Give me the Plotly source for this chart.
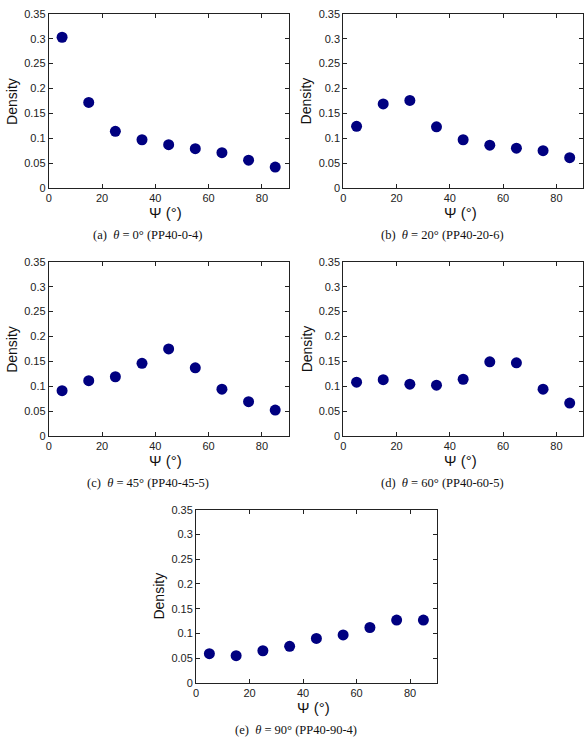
import plotly.graph_objects as go

W, H = 588, 745

psi = [5, 15, 25, 35, 45, 55, 65, 75, 85]
dens_a = [0.303, 0.172, 0.114, 0.097, 0.087, 0.079, 0.071, 0.056, 0.042]
dens_b = [0.124, 0.169, 0.176, 0.123, 0.097, 0.086, 0.080, 0.075, 0.061]
dens_c = [0.091, 0.111, 0.119, 0.146, 0.175, 0.137, 0.094, 0.069, 0.052]
dens_d = [0.108, 0.113, 0.104, 0.102, 0.114, 0.149, 0.147, 0.094, 0.066]
dens_e = [0.059, 0.055, 0.065, 0.074, 0.090, 0.097, 0.112, 0.127, 0.127]

captions = [
    "(a)  <i>θ</i> = 0° (PP40-0-4)",
    "(b)  <i>θ</i> = 20° (PP40-20-6)",
    "(c)  <i>θ</i> = 45° (PP40-45-5)",
    "(d)  <i>θ</i> = 60° (PP40-60-5)",
    "(e)  <i>θ</i> = 90° (PP40-90-4)",
]
xticks = [0, 20, 40, 60, 80]
yticks = [0, 0.05, 0.1, 0.15, 0.2, 0.25, 0.3, 0.35]
yticklabels = ["0", "0.05", "0.1", "0.15", "0.2", "0.25", "0.3", "0.35"]

series = [dens_a, dens_b, dens_c, dens_d, dens_e]

# plot areas in pixels: (left, right, top, bottom)
boxes = [
    (46, 287, 8, 185),
    (342, 583, 8, 185),
    (46, 287, 260, 437),
    (342, 583, 260, 437),
    (194, 436, 512, 688),
]

SANS = "Liberation Sans"
SERIF = "Liberation Serif"

def px(x):
    return x / W

def py(y):
    return 1 - y / H

fig = go.Figure()
annotations = []
layout = {}
for i, (vals, box) in enumerate(zip(series, boxes)):
    n = "" if i == 0 else str(i + 1)
    l, r, t, b = box
    fig.add_trace(go.Scatter(
        x=psi, y=vals, mode="markers",
        marker=dict(size=11, color="#000080", line=dict(width=0)),
        xaxis="x" + n, yaxis="y" + n, showlegend=False,
    ))
    common = dict(
        showline=True, mirror="ticks", linecolor="#222", linewidth=1,
        ticks="inside", ticklen=4, tickcolor="#222", showgrid=False,
        zeroline=False, tickfont=dict(family=SANS, size=11, color="#222"),
    )
    layout["xaxis" + n] = dict(
        domain=[px(l), px(r)], anchor="y" + n, range=[0, 90],
        tickvals=xticks, **common,
    )
    layout["yaxis" + n] = dict(
        domain=[py(b), py(t)], anchor="x" + n, range=[0, 0.35],
        tickvals=yticks, ticktext=yticklabels, **common,
    )
    cx = (l + r) / 2
    annotations.append(dict(
        text="Ψ (°)", x=px(cx - 3), y=py(b + 25), xref="paper", yref="paper",
        showarrow=False, font=dict(family=SANS, size=15, color="#111"),
        xanchor="center", yanchor="middle",
    ))
    annotations.append(dict(
        text="Density", x=px(l - 37), y=py((t + b) / 2), xref="paper", yref="paper",
        showarrow=False, textangle=-90,
        font=dict(family=SANS, size=14, color="#111"),
        xanchor="center", yanchor="middle",
    ))
    annotations.append(dict(
        text=captions[i], x=px(cx - 21), y=py(b + 48), xref="paper", yref="paper",
        showarrow=False, font=dict(family=SERIF, size=12.5, color="#111"),
        xanchor="center", yanchor="middle",
    ))

fig.update_layout(
    width=W, height=H, margin=dict(l=0, r=0, t=0, b=0),
    paper_bgcolor="white", plot_bgcolor="white",
    font=dict(family=SANS),
    annotations=annotations, **layout,
)
fig.write_html("out.html")
